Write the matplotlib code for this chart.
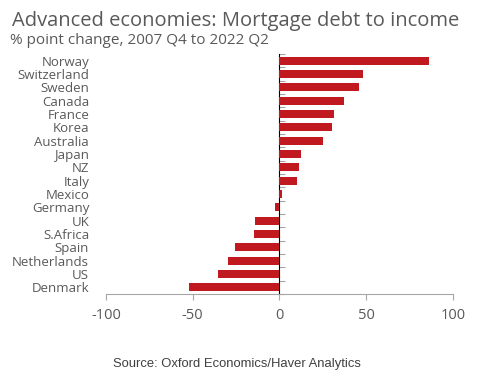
import numpy as np
import matplotlib.pyplot as plt

countries = ['Norway', 'Switzerland', 'Sweden', 'Canada', 'France', 'Korea',
             'Australia', 'Japan', 'NZ', 'Italy', 'Mexico', 'Germany', 'UK',
             'S.Africa', 'Spain', 'Netherlands', 'US', 'Denmark']
change = [86, 48, 46, 37, 31.5, 30.5, 25, 12.5, 11.5, 10, 1.3, -2.4, -14.2,
          -14.8, -25.8, -29.8, -35.6, -52]
xticks = [-100, -50, 0, 50, 100]

txt = '#595959'
grey = '#a6a6a6'
red = '#c0191f'

plt.rcParams['font.family'] = ['Open Sans', 'DejaVu Sans']

fig = plt.figure(figsize=(4.88, 3.78), dpi=100)
ax = fig.add_axes([0.217, 0.222, 0.711, 0.635])

y = np.arange(len(countries))
ax.barh(y, change, height=0.6, color=red)
ax.set_ylim(len(countries) - 0.5, -0.5)
ax.set_xlim(-100, 100)

ax.set_yticks(y)
ax.set_yticklabels(countries, fontsize=9.5, color=txt)
ax.tick_params(axis='y', length=0, pad=12)
ax.set_xticks(xticks)
ax.set_xticklabels([str(v) for v in xticks], fontsize=10.5, color=txt)
ax.tick_params(axis='x', length=4, color=grey, pad=6)

for s in ['top', 'right', 'left']:
    ax.spines[s].set_visible(False)
ax.spines['bottom'].set_color(grey)

# zero line with ticks at category boundaries
sec = ax.secondary_yaxis(0.5)
sec.set_yticks(np.arange(len(countries) + 1) - 0.5)
sec.set_yticklabels([])
sec.tick_params(length=4, color=grey)
sec.spines['left'].set_color(grey)

fig.text(0.025, 0.945, 'Advanced economies: Mortgage debt to income',
         fontsize=14.5, color=txt, va='center')
fig.text(0.02, 0.893, '% point change, 2007 Q4 to 2022 Q2',
         fontsize=11, color=txt, va='center')
fig.text(0.486, 0.037, 'Source: Oxford Economics/Haver Analytics',
         fontsize=9.4, color='#404040', ha='center', va='center',
         family='Liberation Sans')

fig.savefig('out.png', dpi=100)
